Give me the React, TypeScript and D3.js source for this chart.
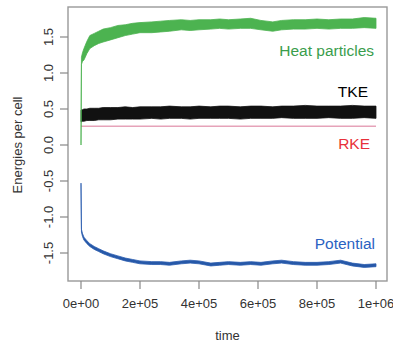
import React from "react";
import * as d3 from "d3";

// time points (shared by noisy series)
const time = [0, 1500, 5000, 10000, 20000, 30000, 45000, 60000, 75000, 100000, 125000, 150000, 175000, 200000, 240000, 270000, 300000, 340000, 370000, 400000, 440000, 470000, 500000, 540000, 575000, 610000, 650000, 680000, 720000, 760000, 800000, 840000, 880000, 920000, 960000, 1000000];

// Heat particles envelope
const heatLow = [0.0, 1.12, 1.16, 1.18, 1.27, 1.34, 1.38, 1.41, 1.43, 1.46, 1.49, 1.52, 1.54, 1.56, 1.56, 1.57, 1.58, 1.6, 1.59, 1.6, 1.61, 1.62, 1.61, 1.62, 1.62, 1.6, 1.58, 1.6, 1.61, 1.61, 1.62, 1.61, 1.62, 1.62, 1.63, 1.62];
const heatHigh = [0.02, 1.22, 1.28, 1.34, 1.44, 1.52, 1.55, 1.58, 1.61, 1.63, 1.66, 1.67, 1.69, 1.7, 1.71, 1.72, 1.73, 1.74, 1.73, 1.74, 1.74, 1.75, 1.74, 1.75, 1.76, 1.73, 1.71, 1.73, 1.74, 1.74, 1.75, 1.74, 1.75, 1.75, 1.77, 1.76];

// TKE envelope
const tkeLow = [0.33, 0.32, 0.33, 0.33, 0.34, 0.34, 0.34, 0.35, 0.35, 0.35, 0.36, 0.36, 0.36, 0.36, 0.37, 0.36, 0.37, 0.37, 0.36, 0.37, 0.37, 0.37, 0.37, 0.36, 0.37, 0.37, 0.37, 0.38, 0.37, 0.37, 0.37, 0.38, 0.37, 0.37, 0.38, 0.37];
const tkeHigh = [0.48, 0.49, 0.49, 0.5, 0.5, 0.51, 0.51, 0.51, 0.52, 0.52, 0.52, 0.53, 0.52, 0.53, 0.53, 0.53, 0.54, 0.53, 0.53, 0.54, 0.53, 0.54, 0.54, 0.53, 0.54, 0.54, 0.53, 0.54, 0.54, 0.55, 0.54, 0.54, 0.54, 0.55, 0.54, 0.54];

// RKE (constant)
const rkeTime = [0, 1000000];
const rkeValue = [0.26, 0.26];

// Potential envelope
const potLow = [-0.55, -1.21, -1.27, -1.32, -1.37, -1.41, -1.45, -1.48, -1.51, -1.55, -1.58, -1.61, -1.63, -1.65, -1.66, -1.66, -1.67, -1.65, -1.64, -1.65, -1.68, -1.67, -1.66, -1.67, -1.66, -1.67, -1.65, -1.64, -1.66, -1.67, -1.67, -1.66, -1.64, -1.68, -1.7, -1.69];
const potHigh = [-0.53, -1.17, -1.23, -1.28, -1.33, -1.37, -1.41, -1.44, -1.47, -1.51, -1.54, -1.57, -1.59, -1.61, -1.62, -1.62, -1.63, -1.61, -1.6, -1.61, -1.64, -1.63, -1.62, -1.63, -1.62, -1.63, -1.61, -1.6, -1.62, -1.63, -1.63, -1.62, -1.6, -1.64, -1.66, -1.65];

const xTicks = [0, 200000, 400000, 600000, 800000, 1000000];
const xTickLabels = ["0e+00", "2e+05", "4e+05", "6e+05", "8e+05", "1e+06"];
const yTicks = [-1.5, -1.0, -0.5, 0.0, 0.5, 1.0, 1.5];
const yTickLabels = ["-1.5", "-1.0", "-0.5", "0.0", "0.5", "1.0", "1.5"];

const W = 393;
const H = 343;
const FONT = "'Liberation Sans', Arial, Helvetica, sans-serif";

export default function App() {
  const x = d3.scaleLinear().domain([0, 1000000]).range([81, 376]);
  const y = d3.scaleLinear().domain([-1.5, 1.5]).range([253, 37]);

  const box = { left: 68, right: 387, top: 7, bottom: 281 };

  const band = (lo: number[], hi: number[]) =>
    d3
      .area<number>()
      .x((_, i) => x(time[i]))
      .y0((_, i) => y(lo[i]))
      .y1((_, i) => y(hi[i]))(time.map((_, i) => i)) || "";

  const rkeLine =
    d3
      .line<number>()
      .x((_, i) => x(rkeTime[i]))
      .y((d) => y(d))(rkeValue) || "";

  return (
    <div style={{ position: "fixed", left: 0, top: 0 }}>
      <svg width={W} height={H} style={{ display: "block", background: "#fff" }}>
        {/* RKE */}
        <path d={rkeLine} fill="none" stroke="#e6a3b9" strokeWidth={1.6} />
        {/* TKE */}
        <path d={band(tkeLow, tkeHigh)} fill="#111" stroke="#111" strokeWidth={0.8} />
        {/* Heat */}
        <path d={band(heatLow, heatHigh)} fill="#4cb350" stroke="#4cb350" strokeWidth={0.8} />
        {/* Potential */}
        <path d={band(potLow, potHigh)} fill="#2658a8" stroke="#2a5cae" strokeWidth={0.8} />

        {/* box */}
        <rect
          x={box.left}
          y={box.top}
          width={box.right - box.left}
          height={box.bottom - box.top}
          fill="none"
          stroke="#999"
          strokeWidth={1.4}
        />

        {/* x axis ticks */}
        {xTicks.map((t, i) => (
          <g key={"xt" + i}>
            <line x1={x(t)} x2={x(t)} y1={box.bottom} y2={box.bottom + 8} stroke="#888" strokeWidth={1.2} />
            <text x={x(t)} y={308} textAnchor="middle" fontFamily={FONT} fontSize={13} fill="#333">
              {xTickLabels[i]}
            </text>
          </g>
        ))}

        {/* y axis ticks */}
        {yTicks.map((v, i) => (
          <g key={"yt" + i}>
            <line x1={box.left - 8} x2={box.left} y1={y(v)} y2={y(v)} stroke="#888" strokeWidth={1.2} />
            <text
              transform={`translate(53,${y(v)}) rotate(-90)`}
              textAnchor="middle"
              fontFamily={FONT}
              fontSize={13}
              fill="#333"
            >
              {yTickLabels[i]}
            </text>
          </g>
        ))}

        {/* axis titles */}
        <text x={(box.left + box.right) / 2} y={340} textAnchor="middle" fontFamily={FONT} fontSize={13} fill="#333">
          time
        </text>
        <text transform={`translate(22,145) rotate(-90)`} textAnchor="middle" fontFamily={FONT} fontSize={13} fill="#333">
          Energies per cell
        </text>

        {/* series labels */}
        <text x={374} y={56} textAnchor="end" fontFamily={FONT} fontSize={15.5} fill="#3a9d4c">
          Heat particles
        </text>
        <text x={368} y={97} textAnchor="end" fontFamily={FONT} fontSize={15.5} fill="#000">
          TKE
        </text>
        <text x={370} y={149} textAnchor="end" fontFamily={FONT} fontSize={15.5} fill="#e8303a">
          RKE
        </text>
        <text x={375} y={249} textAnchor="end" fontFamily={FONT} fontSize={15.5} fill="#2a62c2">
          Potential
        </text>
      </svg>
    </div>
  );
}
